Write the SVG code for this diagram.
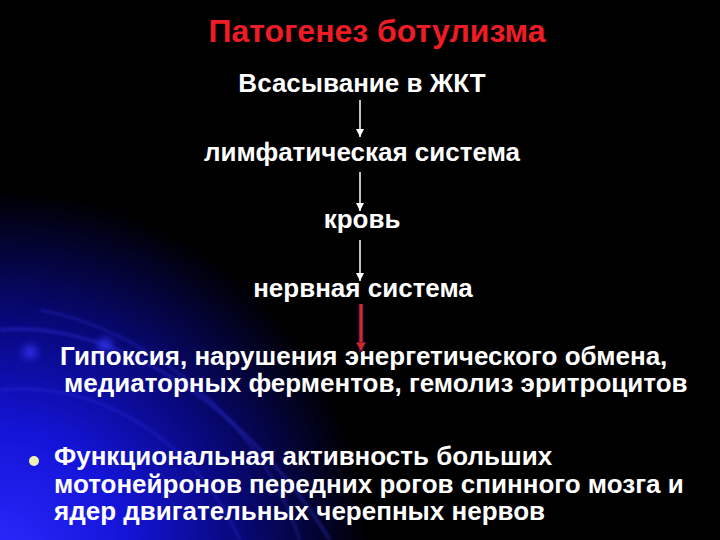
<svg xmlns="http://www.w3.org/2000/svg" width="720" height="540" viewBox="0 0 720 540">
<defs>
<radialGradient id="bg" cx="0" cy="560" r="370" gradientUnits="userSpaceOnUse">
<stop offset="0" stop-color="#2a2aff"/>
<stop offset="0.35" stop-color="#1414d8"/>
<stop offset="0.65" stop-color="#08087a"/>
<stop offset="1" stop-color="#000000"/>
</radialGradient>
<filter id="blur" x="-50%" y="-50%" width="200%" height="200%"><feGaussianBlur stdDeviation="4"/></filter>
<filter id="blur2" x="-20%" y="-20%" width="140%" height="140%"><feGaussianBlur stdDeviation="1.5"/></filter>
<marker id="ah" markerWidth="8" markerHeight="8" refX="8" refY="4" orient="auto" markerUnits="userSpaceOnUse" viewBox="0 0 8 8">
<path d="M0,0 L8,4 L0,8 Z" fill="#ffffff"/>
</marker>
<marker id="ahr" markerWidth="10" markerHeight="10" refX="10" refY="5" orient="auto" markerUnits="userSpaceOnUse" viewBox="0 0 10 10">
<path d="M0,0 L10,5 L0,10 Z" fill="#d42a1a" stroke="#3a1060" stroke-width="1"/>
</marker>
</defs>
<style>
.t{font-family:"Liberation Sans",Arial,sans-serif;font-weight:bold;fill:#ffffff;}
.c{text-anchor:middle;font-size:26px;}
.b{font-size:26px;}
.title{font-family:"Liberation Sans",Arial,sans-serif;font-weight:bold;fill:#ee1c24;font-size:32px;text-anchor:middle;}
.arr{stroke:#ffffff;stroke-width:1.5;fill:none;}
</style>
<rect width="720" height="540" fill="#000000"/>
<rect width="720" height="540" fill="url(#bg)"/>
<g fill="none" stroke="#3a3aff" stroke-opacity="0.35" filter="url(#blur2)">
<path d="M0,330 C90,320 230,380 330,540" stroke-width="3"/>
<path d="M40,310 C150,330 260,420 300,540" stroke-width="2"/>
<path d="M0,390 C110,380 200,450 240,540" stroke-width="2"/>
</g>
<circle cx="30" cy="352" r="7" fill="#3a3aff" opacity="0.8" filter="url(#blur)"/>
<circle cx="105" cy="345" r="7" fill="#3a3aff" opacity="0.8" filter="url(#blur)"/>

<text class="title" x="377" y="42">Патогенез ботулизма</text>

<g id="n1"><text class="t c" x="362" y="92">Всасывание в ЖКТ</text></g>
<g id="n2"><text class="t c" x="362" y="161">лимфатическая система</text></g>
<g id="n3"><text class="t c" x="362" y="228">кровь</text></g>
<g id="n4"><text class="t c" x="363" y="297">нервная система</text></g>
<g id="n5"><text class="t b" x="60" y="365">Гипоксия, нарушения энергетического обмена,</text>
<text class="t b" x="64" y="392">медиаторных ферментов, гемолиз эритроцитов</text></g>
<g id="n6"><circle cx="34" cy="461" r="5" fill="#f0f0b0"/>
<text class="t b" x="54" y="465">Функциональная активность больших</text>
<text class="t b" x="54" y="492.5">мотонейронов передних рогов спинного мозга и</text>
<text class="t b" x="54" y="520">ядер двигательных черепных нервов</text></g>

<g id="connectors">
<line class="arr" x1="360" y1="100" x2="360" y2="137" marker-end="url(#ah)"/>
<line class="arr" x1="360" y1="172" x2="360" y2="211" marker-end="url(#ah)"/>
<line class="arr" x1="360" y1="240" x2="360" y2="281" marker-end="url(#ah)"/>
<line x1="361" y1="304" x2="361" y2="346" stroke="#3a1060" stroke-width="5"/>
<line x1="361" y1="304" x2="361" y2="352" stroke="#d42a1a" stroke-width="3" marker-end="url(#ahr)"/>
</g>
</svg>
